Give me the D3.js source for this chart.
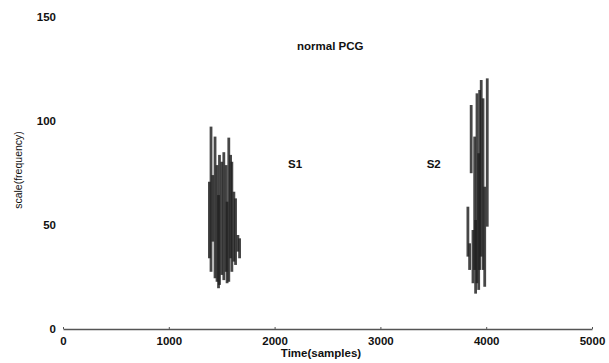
<!DOCTYPE html>
<html>
<head>
<meta charset="utf-8">
<script src="https://cdn.jsdelivr.net/npm/d3@7"></script>
<style>
  body { margin: 0; background: #fff; }
  text { font-family: "Liberation Sans", Arial, sans-serif; font-weight: bold; fill: #111; }
</style>
</head>
<body>
<svg id="chart" width="609" height="363"></svg>
<script>
// Axis ticks
const xTicks = [0, 1000, 2000, 3000, 4000, 5000];
const yTicks = [0, 50, 100, 150];

// S1 burst: time (samples), low and high scale values of each vertical stroke
const s1Time = [1384, 1399, 1416, 1437, 1456, 1470, 1479, 1501, 1520, 1542, 1551, 1567, 1584, 1596, 1615, 1631, 1653, 1669];
const s1Low  = [34, 27.5, 42, 24.4, 22.7, 19.6, 21.2, 26, 23.5, 27.5, 22, 22.7, 34, 27.5, 32.4, 30.8, 37.2, 34];
const s1High = [70.8, 97.3, 74, 92.5, 78.8, 64.4, 83.7, 80.4, 85, 78.8, 61.2, 92, 83.7, 80.4, 66, 62.8, 45.2, 43.6];

// S2 burst
const s2Time = [3827, 3843, 3858, 3875, 3891, 3900, 3913, 3929, 3938, 3953, 3970, 3986, 4010];
const s2Low  = [34.8, 28.4, 74.9, 22, 28.4, 17, 22, 18.8, 28.4, 34.8, 28.4, 20.3, 49.2];
const s2High = [58.8, 41.2, 107.7, 47.6, 92.5, 52.4, 113.3, 84.5, 114.9, 119.7, 110.9, 68.4, 120.5];

// Annotations
const labels = [
  { text: "normal PCG", t: 2526, v: 136 },
  { text: "S1", t: 2194, v: 79.5 },
  { text: "S2", t: 3504, v: 79.5 }
];

const svg = d3.select("#chart");
const x = d3.scaleLinear().domain([0, 5000]).range([63, 592]);
const y = d3.scaleLinear().domain([0, 150]).range([329, 17]);

// x axis
const xAxis = d3.axisBottom(x).tickValues(xTicks).tickFormat(d3.format("d"))
  .tickSizeInner(-2).tickSizeOuter(0).tickPadding(8);
const gx = svg.append("g").attr("transform", `translate(0,${y(0)})`).call(xAxis);
gx.select(".domain").attr("stroke", "#555").attr("stroke-width", 1.6);
gx.selectAll(".tick line").attr("stroke", "#555");
gx.selectAll(".tick text").style("font-size", "11.5px").attr("fill", "#111");

// y labels (no axis line)
svg.append("g").selectAll("text").data(yTicks).join("text")
  .attr("x", 56).attr("y", d => y(d)).attr("dy", "0.35em")
  .attr("text-anchor", "end").style("font-size", "11.5px").text(d => d);

// axis titles
svg.append("text").attr("x", 321).attr("y", 357).attr("text-anchor", "middle")
  .style("font-size", "11.5px").text("Time(samples)");
svg.append("text").attr("transform", "translate(22,170) rotate(-90)").attr("text-anchor", "middle")
  .style("font-size", "10.5px").style("font-weight", "normal").text("scale(frequency)");

// strokes
function drawBurst(times, lows, highs) {
  const data = times.map((t, i) => ({ t, lo: lows[i], hi: highs[i] }));
  svg.append("g").selectAll("line").data(data).join("line")
    .attr("x1", d => x(d.t)).attr("x2", d => x(d.t))
    .attr("y1", d => y(d.lo)).attr("y2", d => y(d.hi))
    .attr("stroke", "#1e1e1e").attr("stroke-opacity", 0.82)
    .attr("stroke-width", 2.8);
}
drawBurst(s1Time, s1Low, s1High);
drawBurst(s2Time, s2Low, s2High);

svg.append("g").selectAll("text").data(labels).join("text")
  .attr("x", d => x(d.t)).attr("y", d => y(d.v)).attr("dy", "0.35em")
  .attr("text-anchor", "middle").style("font-size", "11.5px").text(d => d.text);
</script>
</body>
</html>
